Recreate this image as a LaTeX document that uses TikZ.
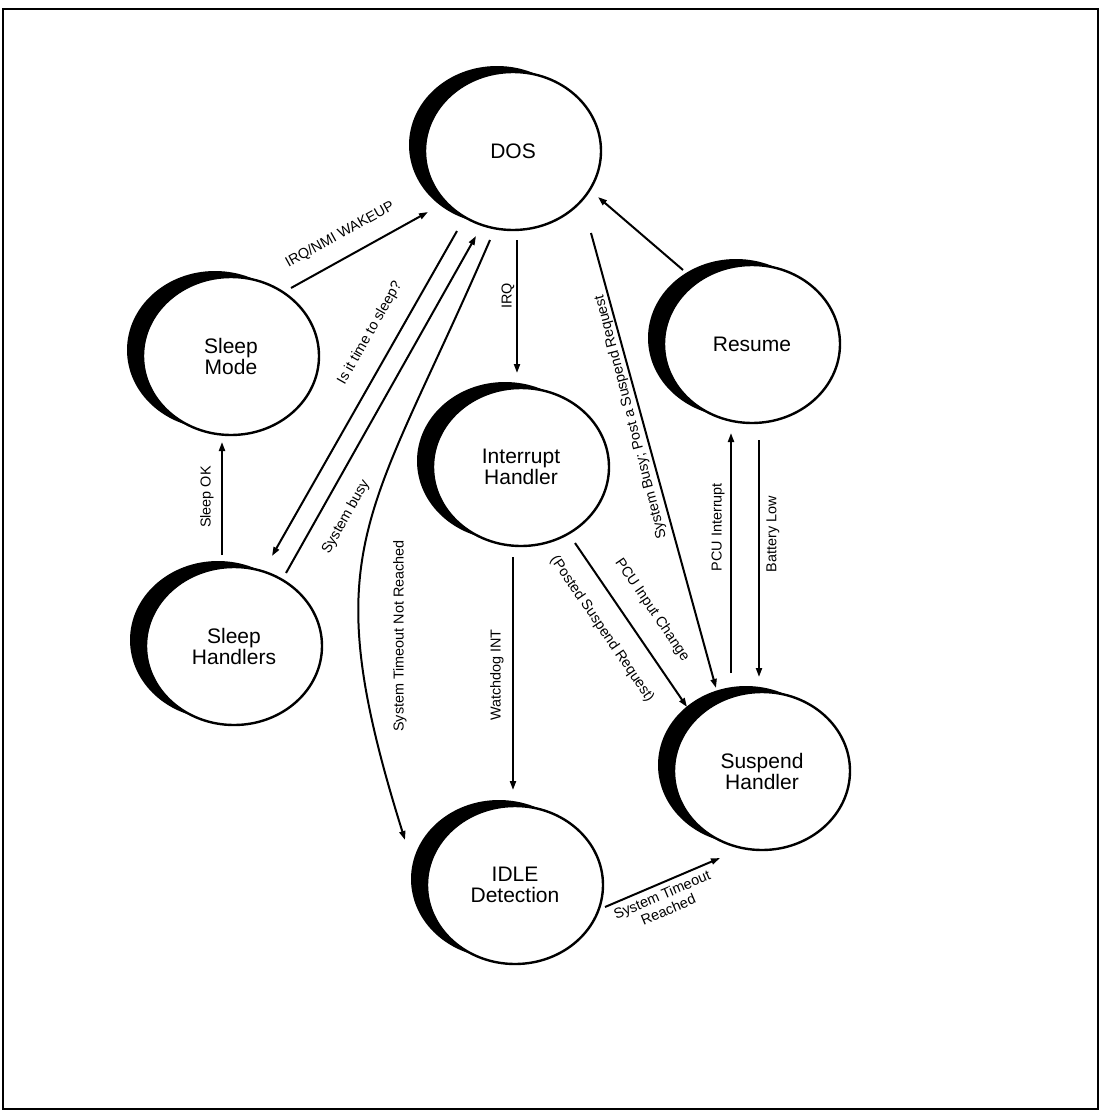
\documentclass[tikz,border=0pt]{standalone}
\usepackage{fontspec}
\setmainfont{Liberation Sans}
\usetikzlibrary{shapes.geometric,arrows.meta}

\tikzset{
  state/.style={ellipse, draw, line width=1.2pt, fill=white, inner sep=0pt,
    minimum width=88pt, minimum height=79pt, align=center,
    font=\fontsize{10.5}{10.5}\selectfont,
    preaction={fill=black, transform canvas={shift={(-8pt,3pt)}}}},
  flow/.style={line width=1pt, -{Triangle[length=4.5pt,width=3pt]}},
  lab/.style={font=\fontsize{7.2}{8}\selectfont, align=center, inner sep=0pt},
}

\begin{document}
\begin{tikzpicture}[x=0.5pt,y=-0.5pt]
     \useasboundingbox (0,0) rectangle (1102,1114);
     \draw[line width=1pt] (3,9) rectangle (1098,1109);
     % states
     \node[state] (dos)  at (513,151) {DOS};
     \node[state] (sm)   at (231,356) {Sleep\\Mode};
     \node[state] (res)  at (752,344) {Resume};
     \node[state] (ih)   at (521,467) {Interrupt\\Handler};
     \node[state] (sh)   at (234,646) {Sleep\\Handlers};
     \node[state] (sus)  at (762,771) {Suspend\\Handler};
     \node[state] (idle) at (515,885) {IDLE\\Detection};
     % transitions
     \draw[flow] ([shift={(60,-68)}]sm.center) -- ([shift={(-85,61)}]dos.center) node[lab, rotate=29] at (340,235) {IRQ/NMI WAKEUP};
     \draw[flow] ([shift={(-56,80)}]dos.center) -- ([shift={(38,-90)}]sh.center) node[lab, rotate=60.4] at (370,333) {Is it time to sleep?};
     \draw[flow] ([shift={(52,-73)}]sh.center) -- ([shift={(-37,85)}]dos.center) node[lab, rotate=60.6] at (346,517) {System busy};
     \draw[flow] ([shift={(-23,89)}]dos.center) .. controls +(-122,283) and +(-92,-294) .. ([shift={(-110,-45)}]idle.center) node[lab, rotate=90] at (400,636) {System Timeout Not Reached};
     \draw[flow] ([shift={(4,89)}]dos.center) -- ([shift={(-4,-94)}]ih.center) node[lab, rotate=90] at (508,296) {IRQ};
     \draw[flow] ([shift={(78,82)}]dos.center) -- ([shift={(-46,-83)}]sus.center) node[lab, rotate=104.5] at (631,417) {System Busy; Post a Suspend Request};
     \draw[flow] ([shift={(54,76)}]ih.center) -- ([shift={(-75,-64)}]sus.center) node[lab, rotate=-55.7] at (652,610) {PCU Input Change} node[lab, rotate=-55.7] at (602,629) {(Posted Suspend Request)};
     \draw[flow] ([shift={(-8,90)}]ih.center) -- ([shift={(-2,-95)}]idle.center) node[lab, rotate=90] at (497,675) {Watchdog INT};
     \draw[flow] ([shift={(90,22)}]idle.center) -- ([shift={(-42,87)}]sus.center) node[lab, rotate=23] at (665,902) {System Timeout\\Reached};
     \draw[flow] ([shift={(-69,-74)}]res.center) -- ([shift={(85,46)}]dos.center);
     \draw[flow] ([shift={(-31,-98)}]sus.center) -- ([shift={(-21,89)}]res.center) node[lab, rotate=90] at (718,527) {PCU Interrupt};
     \draw[flow] ([shift={(7,96)}]res.center) -- ([shift={(-3,-94)}]sus.center) node[lab, rotate=90] at (773,534) {Battery Low};
     \draw[flow] ([shift={(-12,-91)}]sh.center) -- ([shift={(-9,86)}]sm.center) node[lab, rotate=90] at (207,497) {Sleep OK};
\end{tikzpicture}
\end{document}
